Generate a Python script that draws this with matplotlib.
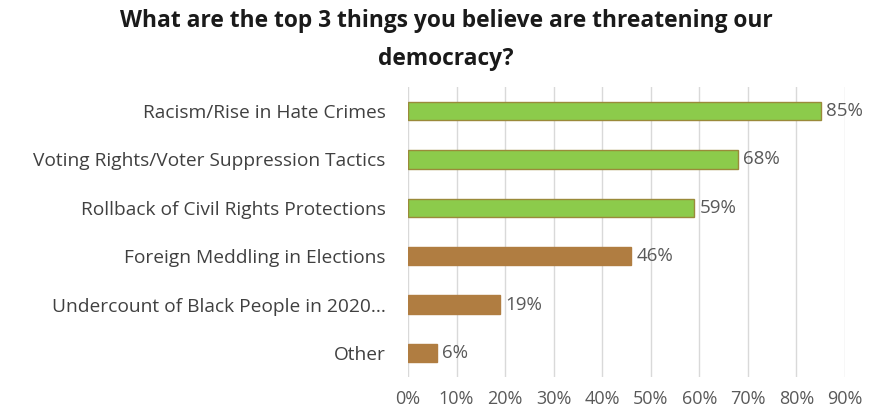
import matplotlib
matplotlib.use("Agg")
import matplotlib.pyplot as plt

categories = [
    "Racism/Rise in Hate Crimes",
    "Voting Rights/Voter Suppression Tactics",
    "Rollback of Civil Rights Protections",
    "Foreign Meddling in Elections",
    "Undercount of Black People in 2020...",
    "Other",
]
values = [85, 68, 59, 46, 19, 6]
groups = ["green", "green", "green", "brown", "brown", "brown"]
tick_values = [0, 10, 20, 30, 40, 50, 60, 70, 80, 90]
tick_labels = [f"{v}%" for v in tick_values]
title = "What are the top 3 things you believe are threatening our\ndemocracy?"

fill = {"green": "#8CCB4B", "brown": "#B07D41"}
edge = {"green": "#9A8A3A", "brown": "#B07D41"}

plt.rcParams['font.family'] = ['Open Sans', 'DejaVu Sans']

fig = plt.figure(figsize=(8.72, 4.13), dpi=100)
ax = fig.add_axes([408/872, 1-377/413, (845-408)/872, (377-87)/413])

ypos = list(range(len(categories)))
for y, v, g in zip(ypos, values, groups):
    ax.barh(y, v, height=0.38, color=fill[g], edgecolor=edge[g], linewidth=1.0, zorder=3)
    ax.text(v + 1.0, y, f"{v}%", va="center", ha="left", fontsize=13.5, color="#595959")

ax.set_xlim(0, 90)
ax.set_ylim(len(categories) - 0.5, -0.5)
ax.set_yticks(ypos)
ax.set_yticklabels(categories, fontsize=13.8, color="#404040")
ax.set_xticks(tick_values)
ax.set_xticklabels(tick_labels, fontsize=13, color="#595959")
ax.tick_params(axis="y", length=0, pad=16)
ax.tick_params(axis="x", length=0, pad=9)
ax.grid(axis="x", color="#D9D9D9", linewidth=1.0, zorder=0)
for s in ax.spines.values():
    s.set_visible(False)

fig.text(446/872, 1-40/413, title, ha="center", va="center", fontsize=16.4,
         fontweight="bold", color="#1a1a1a", linespacing=1.75)

fig.savefig("out.png", dpi=100)
